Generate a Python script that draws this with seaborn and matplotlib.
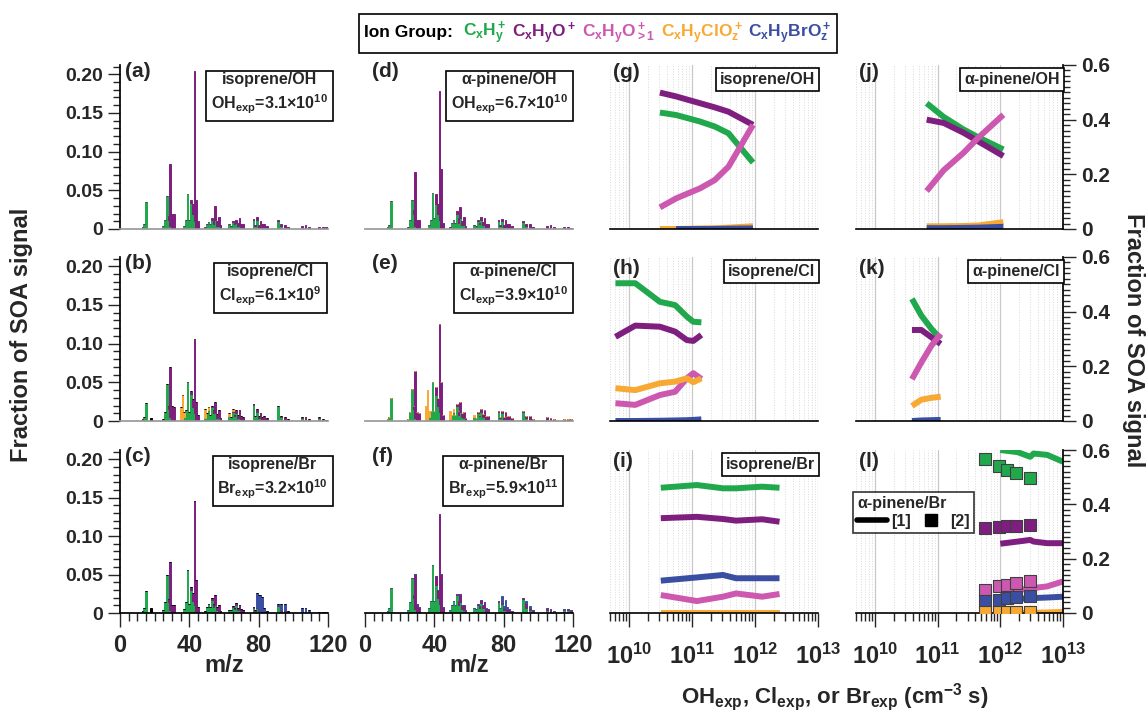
import numpy as np
import matplotlib
matplotlib.use("Agg")
import matplotlib.pyplot as plt
import seaborn as sns
from matplotlib.lines import Line2D
from matplotlib.offsetbox import TextArea, HPacker, AnchoredOffsetbox
from matplotlib.ticker import MultipleLocator, FixedLocator, LogLocator, NullFormatter, FuncFormatter

sns.set_theme(style="ticks")
plt.rcParams["font.family"] = ["Liberation Sans", "DejaVu Sans"]
plt.rcParams["font.weight"] = "bold"
plt.rcParams["mathtext.fontset"] = "custom"
for k in ["rm", "it", "bf", "sf"]:
    plt.rcParams["mathtext." + k] = "Liberation Sans:bold"
plt.rcParams["mathtext.default"] = "rm"

# colours of the ion groups
c_hc = "#22a84c"
c_ho1 = "#7e1f80"
c_hox = "#cc58b0"
c_cl = "#f7a934"
c_br = "#3b4fa2"

# ---------------- mass spectra (a)-(f) ----------------
mz = [13, 14, 15, 18,
      25, 26, 27, 28, 29, 30, 31,
      35, 36, 37, 38, 39, 40, 41, 42, 43, 44, 45,
      49, 50, 51, 52, 53, 54, 55, 56, 57, 58,
      63, 64, 65, 66, 67, 68, 69, 70, 71,
      77, 78, 79, 80, 81, 82, 83, 85,
      91, 93, 95, 97,
      105, 107, 109,
      115, 117, 119]

# (a) isoprene/OH
hc_a = [0.003, 0.006, 0.035, 0,
        0.004, 0.012, 0.043, 0.012, 0.004, 0, 0,
        0, 0, 0.004, 0.012, 0.045, 0.012, 0.033, 0.02, 0.01, 0, 0,
        0.003, 0.006, 0.009, 0.006, 0.012, 0.006, 0.012, 0.004, 0.004, 0,
        0.006, 0.004, 0.009, 0.006, 0.008, 0.004, 0.005, 0.002, 0.001,
        0.012, 0.004, 0.012, 0.003, 0.006, 0.002, 0.002, 0.001,
        0.01, 0.004, 0.002, 0.001,
        0.002, 0.002, 0.001,
        0.001, 0.001, 0.001]
ho_a = [0, 0, 0, 0,
        0, 0, 0, 0.005, 0.08, 0.02, 0.02,
        0, 0, 0, 0, 0, 0, 0.005, 0.012, 0.194, 0.037, 0.01,
        0, 0, 0, 0, 0.002, 0.004, 0.018, 0.006, 0.012, 0.005,
        0, 0, 0.001, 0.002, 0.004, 0.004, 0.009, 0.004, 0.005,
        0.001, 0.001, 0.003, 0.002, 0.004, 0.004, 0.005, 0.003,
        0.001, 0.002, 0.003, 0.002,
        0.002, 0.003, 0.002,
        0.001, 0.001, 0.001]

# (b) isoprene/Cl
hc_b = [0.003, 0.005, 0.023, 0,
        0.003, 0.012, 0.048, 0.015, 0.005, 0, 0,
        0, 0, 0.005, 0.014, 0.051, 0.012, 0.035, 0.018, 0.01, 0, 0,
        0.004, 0.01, 0.014, 0.008, 0.018, 0.01, 0.01, 0.004, 0.004, 0,
        0.006, 0.005, 0.012, 0.006, 0.01, 0.004, 0.006, 0.002, 0.001,
        0.021, 0.006, 0.012, 0.004, 0.006, 0.002, 0.002, 0.001,
        0.019, 0.005, 0.003, 0.001,
        0.004, 0.003, 0.002,
        0.004, 0.002, 0.001]
ho_b = [0, 0, 0, 0,
        0, 0, 0, 0.004, 0.065, 0.02, 0.018,
        0, 0, 0, 0, 0, 0, 0.004, 0.01, 0.096, 0.024, 0.008,
        0, 0, 0, 0, 0.002, 0.004, 0.015, 0.005, 0.01, 0.004,
        0, 0, 0.001, 0.002, 0.004, 0.004, 0.008, 0.004, 0.004,
        0.001, 0.001, 0.003, 0.002, 0.004, 0.003, 0.004, 0.003,
        0.001, 0.002, 0.002, 0.002,
        0.001, 0.002, 0.001,
        0.001, 0.001, 0]
cl_b_mz = [35, 36, 37, 49, 51, 63, 65]
cl_b = [0.018, 0.034, 0.006, 0.012, 0.004, 0.004, 0.002]
ot_b_mz = [18]
ot_b = [0.004]

# (c) isoprene/Br
hc_c = [0.003, 0.006, 0.028, 0,
        0.004, 0.014, 0.05, 0.014, 0.004, 0, 0,
        0, 0, 0.005, 0.014, 0.056, 0.012, 0.03, 0.016, 0.01, 0, 0,
        0.003, 0.008, 0.012, 0.008, 0.017, 0.008, 0.01, 0.004, 0.003, 0,
        0.004, 0.004, 0.008, 0.005, 0.01, 0.004, 0.005, 0.002, 0.001,
        0.007, 0.003, 0.006, 0.002, 0.003, 0.001, 0.001, 0.001,
        0.009, 0.003, 0.002, 0.001,
        0.002, 0.002, 0.001,
        0.001, 0.001, 0.001]
ho_c = [0, 0, 0, 0,
        0, 0, 0, 0.004, 0.062, 0.01, 0.01,
        0, 0, 0, 0, 0, 0, 0.004, 0.01, 0.136, 0.043, 0.008,
        0, 0, 0, 0, 0.002, 0.004, 0.014, 0.004, 0.008, 0.003,
        0, 0, 0.001, 0.002, 0.003, 0.003, 0.006, 0.003, 0.003,
        0.001, 0.001, 0.002, 0.001, 0.002, 0.002, 0.002, 0.002,
        0.001, 0.001, 0.002, 0.001,
        0.001, 0.001, 0.001,
        0, 0, 0]
br_c_mz = [79, 80, 81, 82, 83, 91, 93, 95, 105, 107, 109]
br_c = [0.018, 0.02, 0.018, 0.018, 0.004, 0.002, 0.008, 0.008, 0.003, 0.003, 0.002]
ot_c_mz = [18]
ot_c = [0.007]

# (d) a-pinene/OH
hc_d = [0.003, 0.005, 0.036, 0,
        0.003, 0.012, 0.038, 0.02, 0.004, 0, 0,
        0, 0, 0.005, 0.012, 0.047, 0.014, 0.032, 0.02, 0.012, 0, 0,
        0.003, 0.008, 0.012, 0.008, 0.02, 0.008, 0.014, 0.005, 0.005, 0,
        0.005, 0.004, 0.01, 0.006, 0.012, 0.005, 0.008, 0.003, 0.002,
        0.01, 0.004, 0.01, 0.003, 0.006, 0.002, 0.002, 0.001,
        0.0095, 0.004, 0.003, 0.001,
        0.002, 0.002, 0.001,
        0.001, 0.001, 0]
ho_d = [0, 0, 0, 0,
        0, 0, 0, 0.004, 0.07, 0.011, 0.011,
        0, 0, 0, 0, 0, 0, 0.013, 0.012, 0.166, 0.078, 0.008,
        0, 0, 0, 0, 0.003, 0.006, 0.014, 0.005, 0.01, 0.004,
        0, 0, 0.001, 0.002, 0.004, 0.004, 0.006, 0.004, 0.004,
        0.001, 0.001, 0.003, 0.002, 0.006, 0.004, 0.004, 0.003,
        0.001, 0.002, 0.003, 0.002,
        0.002, 0.003, 0.002,
        0.001, 0.001, 0.001]

# (e) a-pinene/Cl
hc_e = [0.003, 0.005, 0.03, 0,
        0.003, 0.012, 0.042, 0.016, 0.004, 0, 0,
        0, 0, 0.005, 0.013, 0.05, 0.013, 0.034, 0.02, 0.012, 0, 0,
        0.003, 0.008, 0.012, 0.008, 0.02, 0.008, 0.012, 0.005, 0.004, 0,
        0.005, 0.004, 0.01, 0.006, 0.012, 0.005, 0.008, 0.003, 0.002,
        0.012, 0.004, 0.01, 0.003, 0.006, 0.002, 0.002, 0.001,
        0.012, 0.004, 0.003, 0.001,
        0.003, 0.002, 0.001,
        0.002, 0.001, 0.001]
ho_e = [0, 0, 0, 0,
        0, 0, 0, 0.004, 0.06, 0.012, 0.01,
        0, 0, 0, 0, 0, 0, 0.01, 0.01, 0.113, 0.05, 0.008,
        0, 0, 0, 0, 0.002, 0.005, 0.012, 0.005, 0.008, 0.004,
        0, 0, 0.001, 0.002, 0.004, 0.004, 0.006, 0.004, 0.004,
        0.001, 0.001, 0.003, 0.002, 0.005, 0.004, 0.004, 0.003,
        0.001, 0.002, 0.003, 0.002,
        0.002, 0.002, 0.001,
        0.001, 0.001, 0.001]
cl_e_mz = [35, 36, 37, 49, 51, 63]
cl_e = [0.02, 0.04, 0.008, 0.01, 0.004, 0.003]

# (f) a-pinene/Br
hc_f = [0.003, 0.006, 0.033, 0,
        0.004, 0.014, 0.046, 0.02, 0.005, 0, 0,
        0, 0, 0.006, 0.016, 0.062, 0.016, 0.036, 0.02, 0.012, 0, 0,
        0.004, 0.01, 0.015, 0.01, 0.023, 0.01, 0.014, 0.005, 0.004, 0,
        0.006, 0.005, 0.011, 0.007, 0.013, 0.006, 0.008, 0.003, 0.002,
        0.014, 0.006, 0.012, 0.004, 0.006, 0.002, 0.002, 0.001,
        0.018, 0.006, 0.004, 0.002,
        0.004, 0.003, 0.002,
        0.004, 0.004, 0.003]
ho_f = [0, 0, 0, 0,
        0, 0, 0, 0.004, 0.046, 0.012, 0.008,
        0, 0, 0, 0, 0, 0, 0.012, 0.01, 0.117, 0.051, 0.008,
        0, 0, 0, 0, 0.002, 0.005, 0.011, 0.005, 0.006, 0.004,
        0, 0, 0.001, 0.002, 0.004, 0.004, 0.006, 0.003, 0.003,
        0.001, 0.001, 0.002, 0.002, 0.003, 0.003, 0.003, 0.002,
        0.001, 0.007, 0.003, 0.002,
        0.002, 0.002, 0.001,
        0.001, 0.001, 0.001]
br_f_mz = [79, 80, 81, 82, 93, 95]
br_f = [0.008, 0.003, 0.008, 0.003, 0.002, 0.002]

# ---------------- fraction vs exposure (g)-(l) ----------------
x_g = [3.1e10, 5.6e10, 1.35e11, 2.3e11, 3.8e11, 9.3e11]
hc_g = [0.426, 0.417, 0.393, 0.375, 0.350, 0.243]
ho1_g = [0.499, 0.485, 0.46, 0.445, 0.429, 0.381]
hox_g = [0.079, 0.112, 0.149, 0.179, 0.228, 0.381]
cl_g = [0.0, 0.0, 0.002, 0.003, 0.005, 0.01]
br_g = [0.0, 0.0, 0.0, 0.001, 0.002]   # starts at the 2nd exposure

x_h = [6.1e9, 1.26e10, 3.1e10, 5.4e10, 8.3e10, 1.05e11, 1.41e11]
hc_h = [0.504, 0.504, 0.436, 0.424, 0.382, 0.363, 0.361]
ho1_h = [0.308, 0.349, 0.345, 0.327, 0.296, 0.293, 0.315]
hox_h = [0.065, 0.059, 0.095, 0.107, 0.156, 0.175, 0.154]
cl_h = [0.12, 0.113, 0.138, 0.144, 0.156, 0.142, 0.156]
br_h = [0.0, 0.0, 0.001, 0.002, 0.003, 0.004, 0.006]

x_i = [3.2e10, 1.2e11, 3.1e11, 5.0e11, 1.3e12, 2.45e12]
hc_i = [0.461, 0.471, 0.459, 0.459, 0.465, 0.461]
ho1_i = [0.349, 0.354, 0.346, 0.34, 0.345, 0.336]
hox_i = [0.066, 0.044, 0.06, 0.072, 0.06, 0.07]
cl_i = [0.0, 0.0, 0.0, 0.0, 0.0, 0.0]
br_i = [0.119, 0.131, 0.14, 0.128, 0.128, 0.128]

x_j = [6.7e10, 1.25e11, 2.6e11, 4.5e11, 1.12e12]
hc_j = [0.46, 0.41, 0.364, 0.335, 0.291]
ho1_j = [0.40, 0.388, 0.352, 0.32, 0.267]
hox_j = [0.139, 0.215, 0.279, 0.335, 0.418]
cl_j = [0.01, 0.01, 0.011, 0.013, 0.025]
br_j = [0.003, 0.003, 0.004, 0.005, 0.008]

x_k = [3.9e10, 5.5e10, 8.0e10, 1.12e11]
hc_k = [0.447, 0.386, 0.337, 0.30]
ho1_k = [0.333, 0.333, 0.306, 0.282]
hox_k = [0.153, 0.214, 0.276, 0.319]
cl_k = [0.055, 0.078, 0.085, 0.089]
br_k = [0.0, 0.002, 0.003, 0.004]

x_l = [1e12, 1.9e12, 3.0e12, 3.4e12, 5.6e12, 1e13]
hc_l = [0.60, 0.592, 0.575, 0.587, 0.582, 0.557]
ho1_l = [0.255, 0.263, 0.269, 0.263, 0.257, 0.257]
hox_l = [0.08, 0.085, 0.09, 0.092, 0.098, 0.116]
cl_l = [0.0, 0.0, 0.0, 0.001, 0.002, 0.004]
br_l = [0.05, 0.052, 0.054, 0.055, 0.057, 0.06]

x_l_sq = [5.8e11, 9.4e11, 1.3e12, 1.75e12, 2.95e12]
hc_l_sq = [0.566, 0.541, 0.527, 0.517, 0.496]
ho1_l_sq = [0.312, 0.318, 0.321, 0.321, 0.324]
hox_l_sq = [0.086, 0.098, 0.104, 0.11, 0.116]
br_l_sq = [0.043, 0.049, 0.055, 0.059, 0.061]
cl_l_sq = [0.002, 0.002, 0.002, 0.002, 0.002]

# ---------------- layout (pixels) ----------------
W, H = 1148, 712
cols = [(120, 328), (365, 573), (610, 818), (856, 1063)]
rows = [(65, 229), (257, 421), (450, 613)]

fig = plt.figure(figsize=(W / 100, H / 100), dpi=100)


def add_ax(col, row):
    x0, x1 = cols[col]
    y0, y1 = rows[row]
    return fig.add_axes([x0 / W, 1 - y1 / H, (x1 - x0) / W, (y1 - y0) / H])


def sparse(keys, vals):
    d = dict(zip(keys, vals))
    return [d.get(m, 0.0) for m in mz]


def spectrum(col, row, stacks, letter, name, expo, box_x):
    ax = add_ax(col, row)
    base = np.zeros(len(mz))
    for vals, color in stacks:
        v = np.asarray(vals, float)
        ax.bar(mz, v, bottom=base, width=1.0, color=color, edgecolor=color, linewidth=0.7)
        base += v
    ax.set_xlim(0, 120)
    ax.set_ylim(0, 0.212)
    ax.spines["top"].set_visible(False)
    ax.spines["right"].set_visible(False)
    if col == 0:
        ax.yaxis.set_major_locator(FixedLocator([0, 0.05, 0.10, 0.15, 0.20]))
        ax.yaxis.set_major_formatter(FuncFormatter(lambda v, p: "0" if v == 0 else f"{v:.2f}"))
        ax.yaxis.set_minor_locator(MultipleLocator(0.01))
        ax.tick_params(axis="y", which="major", length=9, width=1, labelsize=14, pad=3)
        ax.tick_params(axis="y", which="minor", length=5, width=1)
        ax.spines["left"].set_color("black")
    else:
        ax.spines["left"].set_visible(False)
        ax.tick_params(axis="y", which="both", left=False, labelleft=False)
    if row == 2:
        ax.xaxis.set_major_locator(FixedLocator([0, 40, 80, 120]))
        ax.xaxis.set_minor_locator(MultipleLocator(5))
        ax.tick_params(axis="x", which="major", length=10, width=1, labelsize=17, pad=5)
        ax.tick_params(axis="x", which="minor", length=5.5, width=1)
        ax.spines["bottom"].set_color("black")
    else:
        ax.tick_params(axis="x", which="both", bottom=False, labelbottom=False)
        ax.spines["bottom"].set_color("0.6")
    ax.text(0.025 if col == 0 else 0.035, 1.02, letter, transform=ax.transAxes,
            fontsize=15, fontweight="bold", ha="left", va="top")
    ax.text(box_x, 0.955, name + "\n" + expo, transform=ax.transAxes, ha="right", va="top",
            multialignment="center", fontsize=11.5, fontweight="bold", linespacing=1.35,
            bbox=dict(boxstyle="square,pad=0.3", fc="white", ec="black", lw=1.2))
    return ax


def trend(col, row, series, letter, name):
    ax = add_ax(col, row)
    ax.set_xscale("log")
    for xs, vals, color in series:
        sns.lineplot(x=xs, y=vals, ax=ax, color=color, linewidth=4.3, legend=False,
                     solid_capstyle="butt", sort=False)
    ax.set_xlim(5e9, 1e13)
    ax.set_ylim(0, 0.6)
    ax.xaxis.set_major_locator(FixedLocator([1e10, 1e11, 1e12, 1e13]))
    ax.xaxis.set_minor_locator(LogLocator(base=10, subs=np.arange(2, 10), numticks=20))
    ax.xaxis.set_minor_formatter(NullFormatter())
    ax.grid(True, which="major", axis="x", color="#c8c8c8", lw=0.9)
    ax.grid(True, which="minor", axis="x", color="#dadada", lw=0.7, ls=":")
    ax.grid(False, axis="y")
    ax.spines["top"].set_visible(False)
    ax.spines["left"].set_visible(False)
    ax.spines["bottom"].set_color("black")
    ax.spines["bottom"].set_linewidth(1.2)
    if row == 2:
        ax.xaxis.set_major_formatter(FuncFormatter(lambda v, p: f"$10^{{{int(round(np.log10(v)))}}}$"))
        ax.tick_params(axis="x", which="major", length=10, width=1, labelsize=17, pad=12)
        ax.tick_params(axis="x", which="minor", length=5.5, width=1)
    else:
        ax.tick_params(axis="x", which="both", bottom=False, labelbottom=False)
    if col == 3:
        ax.yaxis.tick_right()
        ax.spines["right"].set_color("black")
        ax.yaxis.set_major_locator(FixedLocator([0, 0.2, 0.4, 0.6]))
        ax.yaxis.set_major_formatter(FuncFormatter(lambda v, p: "0" if v == 0 else f"{v:.1f}"))
        ax.yaxis.set_minor_locator(MultipleLocator(0.02))
        ax.tick_params(axis="y", which="major", length=9, width=1, labelsize=15, pad=4)
        ax.tick_params(axis="y", which="minor", length=5, width=1)
    else:
        ax.spines["right"].set_visible(False)
        ax.tick_params(axis="y", which="both", left=False, right=False,
                       labelleft=False, labelright=False)
    ax.set_xlabel("")
    ax.set_ylabel("")
    ax.text(0.015, 1.01 if row == 0 else 0.985, letter, transform=ax.transAxes,
            fontsize=15, fontweight="bold", ha="left", va="top")
    if name:
        ax.text(0.985, 0.955 if row == 0 else 0.96, name, transform=ax.transAxes,
                ha="right", va="top", fontsize=11.5, fontweight="bold",
                bbox=dict(boxstyle="square,pad=0.25", fc="white", ec="black", lw=1.2))
    return ax


# spectra
spectrum(0, 0, [(hc_a, c_hc), (ho_a, c_ho1)], "(a)", "isoprene/OH",
         "OH$_{exp}$=3.1×10$^{10}$", 1.0)
spectrum(0, 1, [(hc_b, c_hc), (ho_b, c_ho1), (sparse(cl_b_mz, cl_b), c_cl),
                (sparse(ot_b_mz, ot_b), "black")], "(b)", "isoprene/Cl",
         "Cl$_{exp}$=6.1×10$^{9}$", 0.97)
spectrum(0, 2, [(hc_c, c_hc), (ho_c, c_ho1), (sparse(br_c_mz, br_c), c_br),
                (sparse(ot_c_mz, ot_c), "black")], "(c)", "isoprene/Br",
         "Br$_{exp}$=3.2×10$^{10}$", 1.0)
spectrum(1, 0, [(hc_d, c_hc), (ho_d, c_ho1)], "(d)", "α-pinene/OH",
         "OH$_{exp}$=6.7×10$^{10}$", 0.975)
spectrum(1, 1, [(hc_e, c_hc), (ho_e, c_ho1), (sparse(cl_e_mz, cl_e), c_cl)], "(e)",
         "α-pinene/Cl", "Cl$_{exp}$=3.9×10$^{10}$", 0.975)
spectrum(1, 2, [(hc_f, c_hc), (ho_f, c_ho1), (sparse(br_f_mz, br_f), c_br)], "(f)",
         "α-pinene/Br", "Br$_{exp}$=5.9×10$^{11}$", 0.93)

# fractions vs exposure
trend(2, 0, [(x_g, hc_g, c_hc), (x_g, ho1_g, c_ho1), (x_g, hox_g, c_hox),
             (x_g, cl_g, c_cl), (x_g[1:], br_g, c_br)], "(g)", "isoprene/OH")
trend(2, 1, [(x_h, hc_h, c_hc), (x_h, ho1_h, c_ho1), (x_h, hox_h, c_hox),
             (x_h, cl_h, c_cl), (x_h, br_h, c_br)], "(h)", "isoprene/Cl")
trend(2, 2, [(x_i, hc_i, c_hc), (x_i, ho1_i, c_ho1), (x_i, hox_i, c_hox),
             (x_i, cl_i, c_cl), (x_i, br_i, c_br)], "(i)", "isoprene/Br")
trend(3, 0, [(x_j, hc_j, c_hc), (x_j, ho1_j, c_ho1), (x_j, hox_j, c_hox),
             (x_j, cl_j, c_cl), (x_j, br_j, c_br)], "(j)", "α-pinene/OH")
trend(3, 1, [(x_k, hc_k, c_hc), (x_k, ho1_k, c_ho1), (x_k, hox_k, c_hox),
             (x_k, cl_k, c_cl), (x_k, br_k, c_br)], "(k)", "α-pinene/Cl")
ax_l = trend(3, 2, [(x_l, hc_l, c_hc), (x_l, ho1_l, c_ho1), (x_l, hox_l, c_hox),
                    (x_l, cl_l, c_cl), (x_l, br_l, c_br)], "(l)", "")
for vals, color in [(hc_l_sq, c_hc), (ho1_l_sq, c_ho1), (hox_l_sq, c_hox),
                    (br_l_sq, c_br), (cl_l_sq, c_cl)]:
    sns.scatterplot(x=x_l_sq, y=vals, ax=ax_l, marker="s", s=80, color=color,
                    edgecolor="0.25", linewidth=0.8, legend=False, zorder=4)
ax_l.set_xlabel("")
ax_l.set_ylabel("")
handles = [Line2D([], [], color="black", lw=4),
           Line2D([], [], color="black", marker="s", ls="none", markersize=8)]
leg = ax_l.legend(handles, ["[1]", "[2]"], title="α-pinene/Br", ncol=2, loc="upper left",
                  bbox_to_anchor=(-0.015, 0.745), frameon=True, fancybox=False,
                  edgecolor="black", fontsize=11.5, handlelength=1.9, columnspacing=0.3,
                  handletextpad=0.25, borderpad=0.25, borderaxespad=0, labelspacing=0.2,
                  title_fontproperties={"weight": "bold", "size": 11.5})
leg._legend_box.align = "left"
leg.get_frame().set_linewidth(1.2)

# top legend
pieces = [("Ion Group: ", "black"), (r"$C_xH_y^+$", c_hc), (r"$C_xH_yO^+$", c_ho1),
          (r"$C_xH_yO_{>1}^+$", c_hox), (r"$C_xH_yClO_z^+$", c_cl), (r"$C_xH_yBrO_z^+$", c_br)]
areas = [TextArea(t, textprops=dict(color=c, fontsize=12.5, fontweight="bold")) for t, c in pieces]
pack = HPacker(children=areas, sep=4, pad=0, align="baseline")
top = AnchoredOffsetbox(loc="center", child=pack, pad=0.35, borderpad=0, frameon=True,
                        bbox_to_anchor=(598 / W, 1 - 33.5 / H), bbox_transform=fig.transFigure)
top.patch.set_edgecolor("black")
top.patch.set_linewidth(1.2)
top.patch.set_boxstyle("square", pad=0)
fig.add_artist(top)

# axis titles
fig.text(22 / W, 1 - 335 / H, "Fraction of SOA signal", rotation=90, ha="center", va="center",
         fontsize=17, fontweight="bold")
fig.text(1133 / W, 1 - 340 / H, "Fraction of SOA signal", rotation=270, ha="center", va="center",
         fontsize=17, fontweight="bold")
fig.text(224 / W, 1 - 666 / H, "m/z", ha="center", va="center", fontsize=17, fontweight="bold")
fig.text(469 / W, 1 - 666 / H, "m/z", ha="center", va="center", fontsize=17, fontweight="bold")
fig.text(835 / W, 1 - 697 / H, "OH$_{exp}$, Cl$_{exp}$, or Br$_{exp}$ (cm$^{-3}$ s)",
         ha="center", va="center", fontsize=16, fontweight="bold")

fig.savefig("out.png", dpi=100)
